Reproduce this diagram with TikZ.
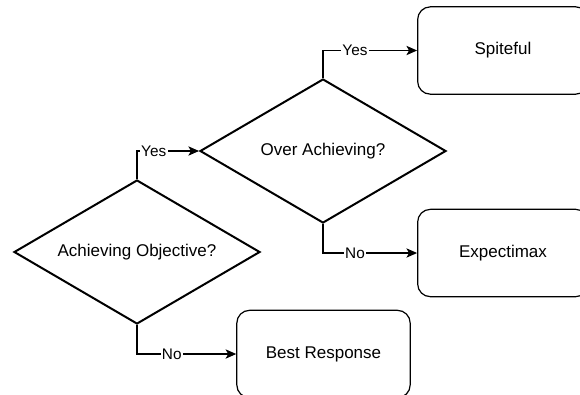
\documentclass[tikz,border=0pt]{standalone}
\usepackage{fontspec}
\setmainfont{Liberation Sans}
\usetikzlibrary{shapes.geometric,arrows.meta}
\tikzset{
  decision/.style={diamond, draw, line width=1.5pt, inner sep=0pt, shape aspect=1.708, minimum width=184.5pt, minimum height=108pt, font=\fontsize{12.75}{15}\selectfont},
  outcome/.style={rectangle, draw, line width=0.9pt, rounded corners=9.5pt, minimum width=128pt, minimum height=65.5pt, font=\fontsize{12.75}{15}\selectfont},
  arr/.style={draw, line width=0.8pt, -{Stealth[length=8pt,width=7pt,inset=2pt]}},
  lab/.style={fill=white, inner sep=1pt, font=\fontsize{11.5}{13}\selectfont}
}
\begin{document}
\begin{tikzpicture}[x=0.75pt,y=-0.75pt]
\clip (0,0) rectangle (580,394);
\fill[white] (0,0) rectangle (580,394);
\node[decision] (d1) at (137,252) {Achieving Objective?};
\node[decision] (d2) at (323,151) {Over Achieving?};
\node[outcome] (s) at (503,50.5) {Spiteful};
\node[outcome] (e) at (503,253) {Expectimax};
\node[outcome, minimum width=130pt] (b) at (323.5,354) {Best Response};
\draw[arr] (d1.north) |- node[lab, pos=0.635] {Yes} (d2.west);
\draw[arr] (d2.north) |- node[lab, pos=0.67] {Yes} (s.west);
\draw[arr] (d2.south) |- node[lab, pos=0.67] {No} (e.west);
\draw[arr] (d1.south) |- node[lab, pos=0.675] {No} (b.west);
\end{tikzpicture}
\end{document}
